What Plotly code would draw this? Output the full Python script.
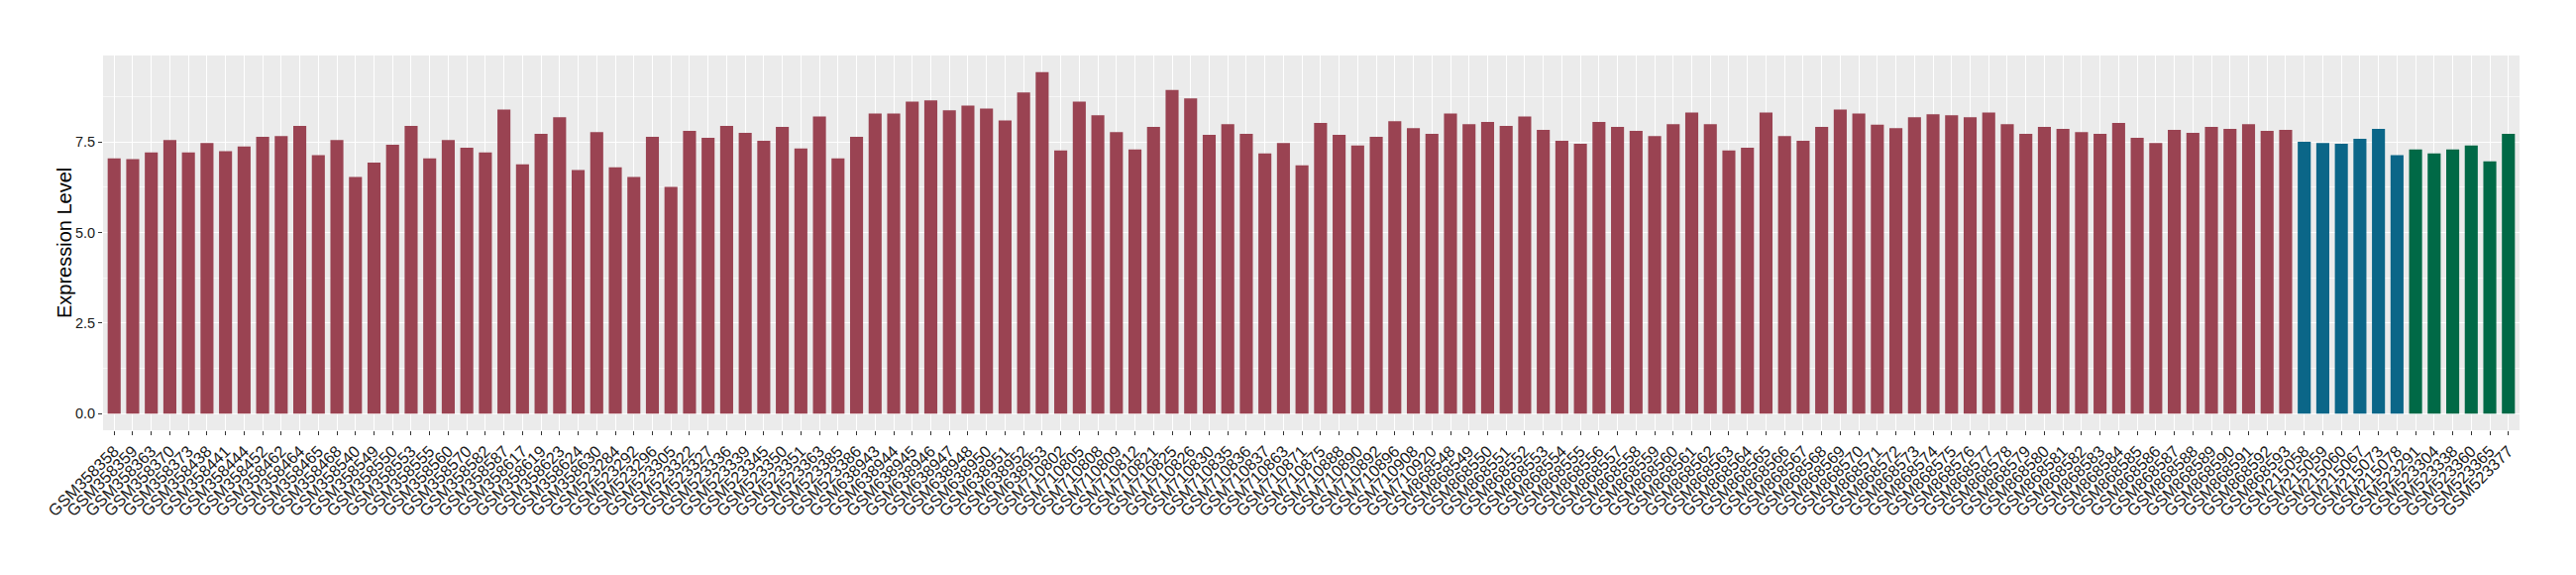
import plotly.graph_objects as go

samples = [
    "GSM358358", "GSM358359", "GSM358363", "GSM358370", "GSM358373", "GSM358438", "GSM358441", "GSM358444",
    "GSM358452", "GSM358462", "GSM358464", "GSM358465", "GSM358468", "GSM358540", "GSM358549", "GSM358550",
    "GSM358553", "GSM358555", "GSM358560", "GSM358570", "GSM358582", "GSM358587", "GSM358617", "GSM358619",
    "GSM358623", "GSM358624", "GSM358630", "GSM523284", "GSM523292", "GSM523296", "GSM523305", "GSM523322",
    "GSM523327", "GSM523336", "GSM523339", "GSM523345", "GSM523350", "GSM523351", "GSM523363", "GSM523385",
    "GSM523386", "GSM638943", "GSM638944", "GSM638945", "GSM638946", "GSM638947", "GSM638948", "GSM638950",
    "GSM638951", "GSM638952", "GSM638953", "GSM710802", "GSM710805", "GSM710808", "GSM710809", "GSM710812",
    "GSM710821", "GSM710825", "GSM710826", "GSM710830", "GSM710835", "GSM710836", "GSM710837", "GSM710863",
    "GSM710871", "GSM710875", "GSM710888", "GSM710890", "GSM710892", "GSM710896", "GSM710908", "GSM710920",
    "GSM868548", "GSM868549", "GSM868550", "GSM868551", "GSM868552", "GSM868553", "GSM868554", "GSM868555",
    "GSM868556", "GSM868557", "GSM868558", "GSM868559", "GSM868560", "GSM868561", "GSM868562", "GSM868563",
    "GSM868564", "GSM868565", "GSM868566", "GSM868567", "GSM868568", "GSM868569", "GSM868570", "GSM868571",
    "GSM868572", "GSM868573", "GSM868574", "GSM868575", "GSM868576", "GSM868577", "GSM868578", "GSM868579",
    "GSM868580", "GSM868581", "GSM868582", "GSM868583", "GSM868584", "GSM868585", "GSM868586", "GSM868587",
    "GSM868588", "GSM868589", "GSM868590", "GSM868591", "GSM868592", "GSM868593",
    "GSM215058", "GSM215059", "GSM215060", "GSM215067", "GSM215073", "GSM215078",
    "GSM523291", "GSM523304", "GSM523338", "GSM523360", "GSM523365", "GSM523377",
]

expression = [
    7.04, 7.02, 7.21, 7.55, 7.21, 7.47, 7.24, 7.37,
    7.64, 7.66, 7.94, 7.13, 7.55, 6.53, 6.93, 7.42,
    7.94, 7.04, 7.55, 7.34, 7.21, 8.39, 6.88, 7.72,
    8.18, 6.72, 7.77, 6.80, 6.53, 7.64, 6.26, 7.80,
    7.61, 7.94, 7.75, 7.53, 7.91, 7.32, 8.20, 7.04,
    7.64, 8.28, 8.28, 8.61, 8.64, 8.37, 8.50, 8.42,
    8.09, 8.86, 9.42, 7.26, 8.61, 8.23, 7.77, 7.29,
    7.91, 8.93, 8.70, 7.69, 7.99, 7.72, 7.18, 7.47,
    6.85, 8.02, 7.69, 7.40, 7.64, 8.07, 7.88, 7.72,
    8.28, 7.99, 8.05, 7.94, 8.20, 7.83, 7.53, 7.45,
    8.05, 7.91, 7.80, 7.66, 7.99, 8.31, 7.99, 7.26,
    7.34, 8.31, 7.66, 7.53, 7.91, 8.39, 8.28, 7.97,
    7.88, 8.18, 8.26, 8.23, 8.18, 8.31, 7.99, 7.72,
    7.91, 7.86, 7.77, 7.72, 8.02, 7.61, 7.47, 7.83,
    7.75, 7.91, 7.86, 7.99, 7.80, 7.83,
    7.50, 7.47, 7.45, 7.58, 7.86, 7.13,
    7.29, 7.18, 7.29, 7.40, 6.96, 7.72,
]

groups = ["A"] * 118 + ["B"] * 6 + ["C"] * 6
group_colors = {"A": "#9A4352", "B": "#0B6688", "C": "#006946"}
y_ticks = [0.0, 2.5, 5.0, 7.5]
y_tick_text = ["0.0", "2.5", "5.0", "7.5"]
y_title = "Expression Level"

fig = go.Figure()
fig.add_trace(go.Bar(
    x=samples,
    y=expression,
    marker=dict(color=[group_colors[g] for g in groups], line=dict(width=0)),
    width=0.7,
    showlegend=False,
))

fig.update_layout(
    width=2592, height=572,
    margin=dict(l=96, r=57, t=48, b=146, autoexpand=False),
    paper_bgcolor="white",
    plot_bgcolor="#EBEBEB",
    font=dict(family="Liberation Sans, Arial, sans-serif", color="#1A1A1A"),
    bargap=0.3,
)
fig.update_xaxes(
    type="category",
    range=[-0.6, len(samples) - 0.4],
    tickmode="array", tickvals=samples, ticktext=samples,
    tickangle=-45,
    tickfont=dict(size=16.5, color="#1A1A1A"),
    showgrid=True, gridcolor="white", gridwidth=1.4,
    ticks="outside", ticklen=4, tickcolor="#333333", tickwidth=1,
    zeroline=False, showline=False, automargin=False,
)
fig.update_yaxes(
    range=[-0.455, 9.88],
    tickvals=y_ticks, ticktext=y_tick_text,
    tickfont=dict(size=14.5, color="#1A1A1A"),
    showgrid=True, gridcolor="white", gridwidth=1.4,
    minor=dict(tickvals=[1.25, 3.75, 6.25, 8.75], showgrid=True, gridcolor="#F7F7F7", gridwidth=0.7, ticks=""),
    ticks="outside", ticklen=4, tickcolor="#333333", tickwidth=1,
    zeroline=False, showline=False, automargin=False,
)
fig.add_annotation(
    text=y_title, textangle=-90, showarrow=False,
    xref="paper", yref="paper", x=0, y=0.5,
    xanchor="center", yanchor="middle", xshift=-39,
    font=dict(size=20, color="black"),
)

fig.write_html("out.html")
